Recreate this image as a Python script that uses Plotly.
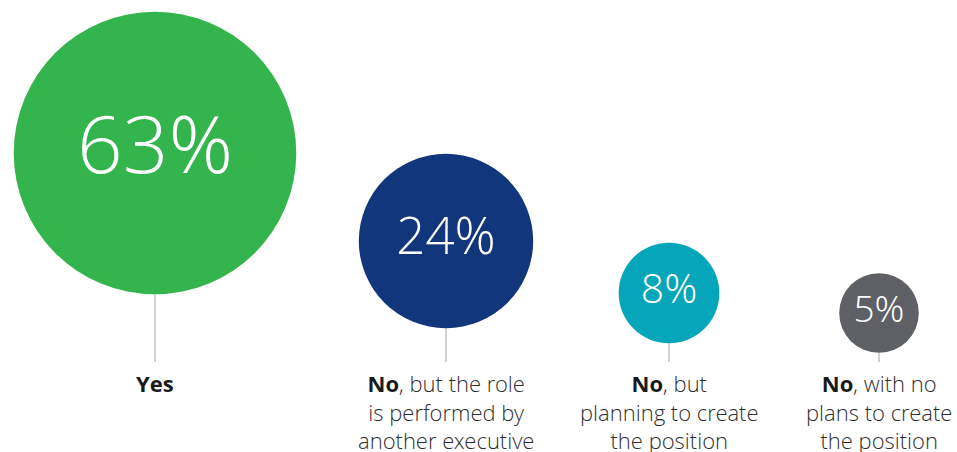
import numpy as np
import plotly.graph_objects as go

# ---- data ----
categories = ["<B>Yes</B>",
              "<B>No</B>, but the role<br>is performed by<br>another executive",
              "<B>No</B>, but<br>planning to create<br>the position",
              "<B>No</B>, with no<br>plans to create<br>the position"]
values = [63, 24, 8, 5]
value_labels = ["63%", "24%", "8%", "5%"]

# ---- layout / style constants ----
W, H = 957, 452
x_centers = [155, 446, 669, 879]
y_centers = [153, 241, 293, 313]
scale = 17.8                      # px radius per sqrt(percent)
colors = ["#34b44c", "#12367c", "#05a6b9", "#5e6066"]
text_sizes = [80, 51, 41, 37]
line_end_y = 362
label_top_y = 366
label_size = 22
light_font = "Open Sans Light, Open Sans"
bold_span = '<span style="font-family:Open Sans;font-weight:700;fill:#1a1a1a">'

radii = [scale * np.sqrt(v) for v in values]

fig = go.Figure()

# connector lines
lx, ly = [], []
for xc, yc, r in zip(x_centers, y_centers, radii):
    lx += [xc, xc, None]
    ly += [yc + r, line_end_y, None]
fig.add_trace(go.Scatter(x=lx, y=ly, mode="lines",
                         line=dict(color="#a6a6a6", width=1),
                         hoverinfo="skip", showlegend=False))

# bubbles
fig.add_trace(go.Scatter(
    x=x_centers, y=y_centers, mode="markers+text",
    marker=dict(size=[2 * r for r in radii], color=colors,
                line=dict(width=0), opacity=1),
    text=value_labels, textposition="middle center",
    textfont=dict(family=light_font, size=text_sizes, color="white", weight=300),
    hoverinfo="skip", showlegend=False))

# category labels
for xc, lab in zip(x_centers, categories):
    txt = lab.replace("<B>", bold_span).replace("</B>", "</span>")
    fig.add_annotation(x=xc, y=label_top_y, text=txt, showarrow=False,
                       xanchor="center", yanchor="top", align="center",
                       font=dict(family=light_font, size=label_size,
                                 color="#2e2e2e", weight=300))

fig.update_layout(
    width=W, height=H, margin=dict(l=0, r=0, t=0, b=0),
    paper_bgcolor="white", plot_bgcolor="white",
    xaxis=dict(range=[0, W], visible=False, fixedrange=True),
    yaxis=dict(range=[H, 0], visible=False, fixedrange=True),
)

fig.write_html("out.html")
